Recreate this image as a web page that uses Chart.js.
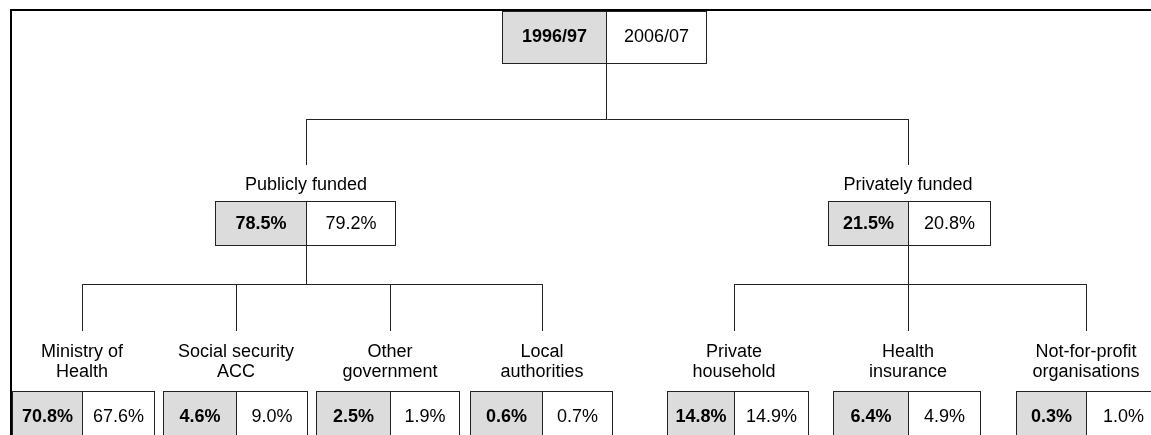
<!DOCTYPE html>
<html>
<head>
<meta charset="utf-8">
<script src="https://cdn.jsdelivr.net/npm/chart.js@4.4.0/dist/chart.umd.min.js"></script>
<style>
  body { margin: 0; background: #fff; }
  canvas { display: block; }
</style>
</head>
<body>
<canvas id="tree" width="1151" height="435"></canvas>
<script>
// data
const years = ["1996/97", "2006/07"];
const groups = ["Publicly funded", "Privately funded"];
const groups1996 = [78.5, 21.5];
const groups2006 = [79.2, 20.8];
const categories = [
  ["Ministry of", "Health"],
  ["Social security", "ACC"],
  ["Other", "government"],
  ["Local", "authorities"],
  ["Private", "household"],
  ["Health", "insurance"],
  ["Not-for-profit", "organisations"]
];
const categoryGroup = [0, 0, 0, 0, 1, 1, 1];
const values1996 = [70.8, 4.6, 2.5, 0.6, 14.8, 6.4, 0.3];
const values2006 = [67.6, 9.0, 1.9, 0.7, 14.9, 4.9, 1.0];

// layout, in axis units (axes span the whole 1151x435 canvas)
const topBox = { l: 502, m: 606, r: 706, t: 11, b: 63 };
const groupBoxes = [
  { l: 215, m: 306, r: 395 },
  { l: 828, m: 908, r: 990 }
];
const leafBoxes = [
  { l: 12, m: 82, r: 154 },
  { l: 163, m: 236, r: 307 },
  { l: 316, m: 390, r: 459 },
  { l: 470, m: 542, r: 612 },
  { l: 667, m: 734, r: 808 },
  { l: 833, m: 908, r: 980 },
  { l: 1016, m: 1086, r: 1160 }
];
const Y = {
  bar1: 119, drop1: 165, groupLabel: 185, groupTop: 201, groupBottom: 245,
  bar2: 284, drop2: 331, leafLabel: 352, leafLine: 20, leafTop: 391, leafBottom: 445
};
const FRAME = { x: 11, y: 10 };

const GRAY = "#dcdcdc";
const EDGE = "#222";
const FONT = "'Liberation Sans', Arial, Helvetica, sans-serif";

function seg(x1, y1, x2, y2, w) {
  return {
    data: [{ x: x1, y: y1 }, { x: x2, y: y2 }],
    showLine: true,
    borderColor: w ? "#000" : EDGE,
    borderWidth: w || 1,
    pointRadius: 0,
    clip: false
  };
}

const h = 0.5;
const datasets = [];
// frame
datasets.push(seg(FRAME.x - 1, FRAME.y, 1151, FRAME.y, 2));
datasets.push(seg(FRAME.x, FRAME.y, FRAME.x, 435, 2));
// top -> groups
datasets.push(seg(topBox.m + h, topBox.b, topBox.m + h, Y.bar1 + h));
datasets.push(seg(groupBoxes[0].m + h, Y.bar1 + h, groupBoxes[1].m + h, Y.bar1 + h));
groupBoxes.forEach(g => datasets.push(seg(g.m + h, Y.bar1 + h, g.m + h, Y.drop1)));
// groups -> leaves
groupBoxes.forEach((g, gi) => {
  const kids = leafBoxes.filter((b, i) => categoryGroup[i] === gi);
  datasets.push(seg(g.m + h, Y.groupBottom, g.m + h, Y.bar2 + h));
  datasets.push(seg(kids[0].m + h, Y.bar2 + h, kids[kids.length - 1].m + h, Y.bar2 + h));
  kids.forEach(k => datasets.push(seg(k.m + h, Y.bar2 + h, k.m + h, Y.drop2)));
});

const boxPlugin = {
  id: "boxes",
  afterDatasetsDraw(chart) {
    const ctx = chart.ctx;
    const sx = chart.scales.x, sy = chart.scales.y;
    const px = v => Math.round(sx.getPixelForValue(v)) + h;
    const py = v => Math.round(sy.getPixelForValue(v)) + h;

    function pairBox(b, t, btm, left, right) {
      const l = px(b.l), m = px(b.m), r = px(b.r), top = py(t), bot = py(btm);
      ctx.save();
      ctx.fillStyle = GRAY;
      ctx.fillRect(l, top, m - l, bot - top);
      ctx.fillStyle = "#fff";
      ctx.fillRect(m, top, r - m, bot - top);
      ctx.strokeStyle = EDGE;
      ctx.lineWidth = 1;
      ctx.strokeRect(l, top, r - l, bot - top);
      ctx.beginPath();
      ctx.moveTo(m, top);
      ctx.lineTo(m, bot);
      ctx.stroke();
      const cy = top + Math.min(bot - top, 50) / 2;
      ctx.fillStyle = "#000";
      ctx.textAlign = "center";
      ctx.textBaseline = "middle";
      ctx.font = "bold 18px " + FONT;
      ctx.fillText(left, (l + m) / 2, cy + 1);
      ctx.font = "18px " + FONT;
      ctx.fillText(right, (m + r) / 2, cy + 1);
      ctx.restore();
    }

    function label(lines, x, y) {
      ctx.save();
      ctx.fillStyle = "#000";
      ctx.textAlign = "center";
      ctx.textBaseline = "middle";
      ctx.font = "18px " + FONT;
      lines.forEach((s, i) => ctx.fillText(s, sx.getPixelForValue(x), sy.getPixelForValue(y + i * Y.leafLine)));
      ctx.restore();
    }

    const fmt = v => v.toFixed(1) + "%";
    pairBox(topBox, topBox.t, topBox.b, years[0], years[1]);
    groupBoxes.forEach((g, i) => {
      label([groups[i]], g.m, Y.groupLabel);
      pairBox(g, Y.groupTop, Y.groupBottom, fmt(groups1996[i]), fmt(groups2006[i]));
    });
    leafBoxes.forEach((b, i) => {
      label(categories[i], b.m, Y.leafLabel);
      pairBox(b, Y.leafTop, Y.leafBottom, fmt(values1996[i]), fmt(values2006[i]));
    });
  }
};

new Chart(document.getElementById("tree"), {
  type: "scatter",
  data: { datasets: datasets },
  options: {
    responsive: false,
    animation: false,
    events: [],
    layout: { padding: 0 },
    plugins: { legend: { display: false }, tooltip: { enabled: false } },
    scales: {
      x: { type: "linear", min: 0, max: 1151, display: false },
      y: { type: "linear", min: 0, max: 435, reverse: true, display: false }
    }
  },
  plugins: [boxPlugin]
});
</script>
</body>
</html>
